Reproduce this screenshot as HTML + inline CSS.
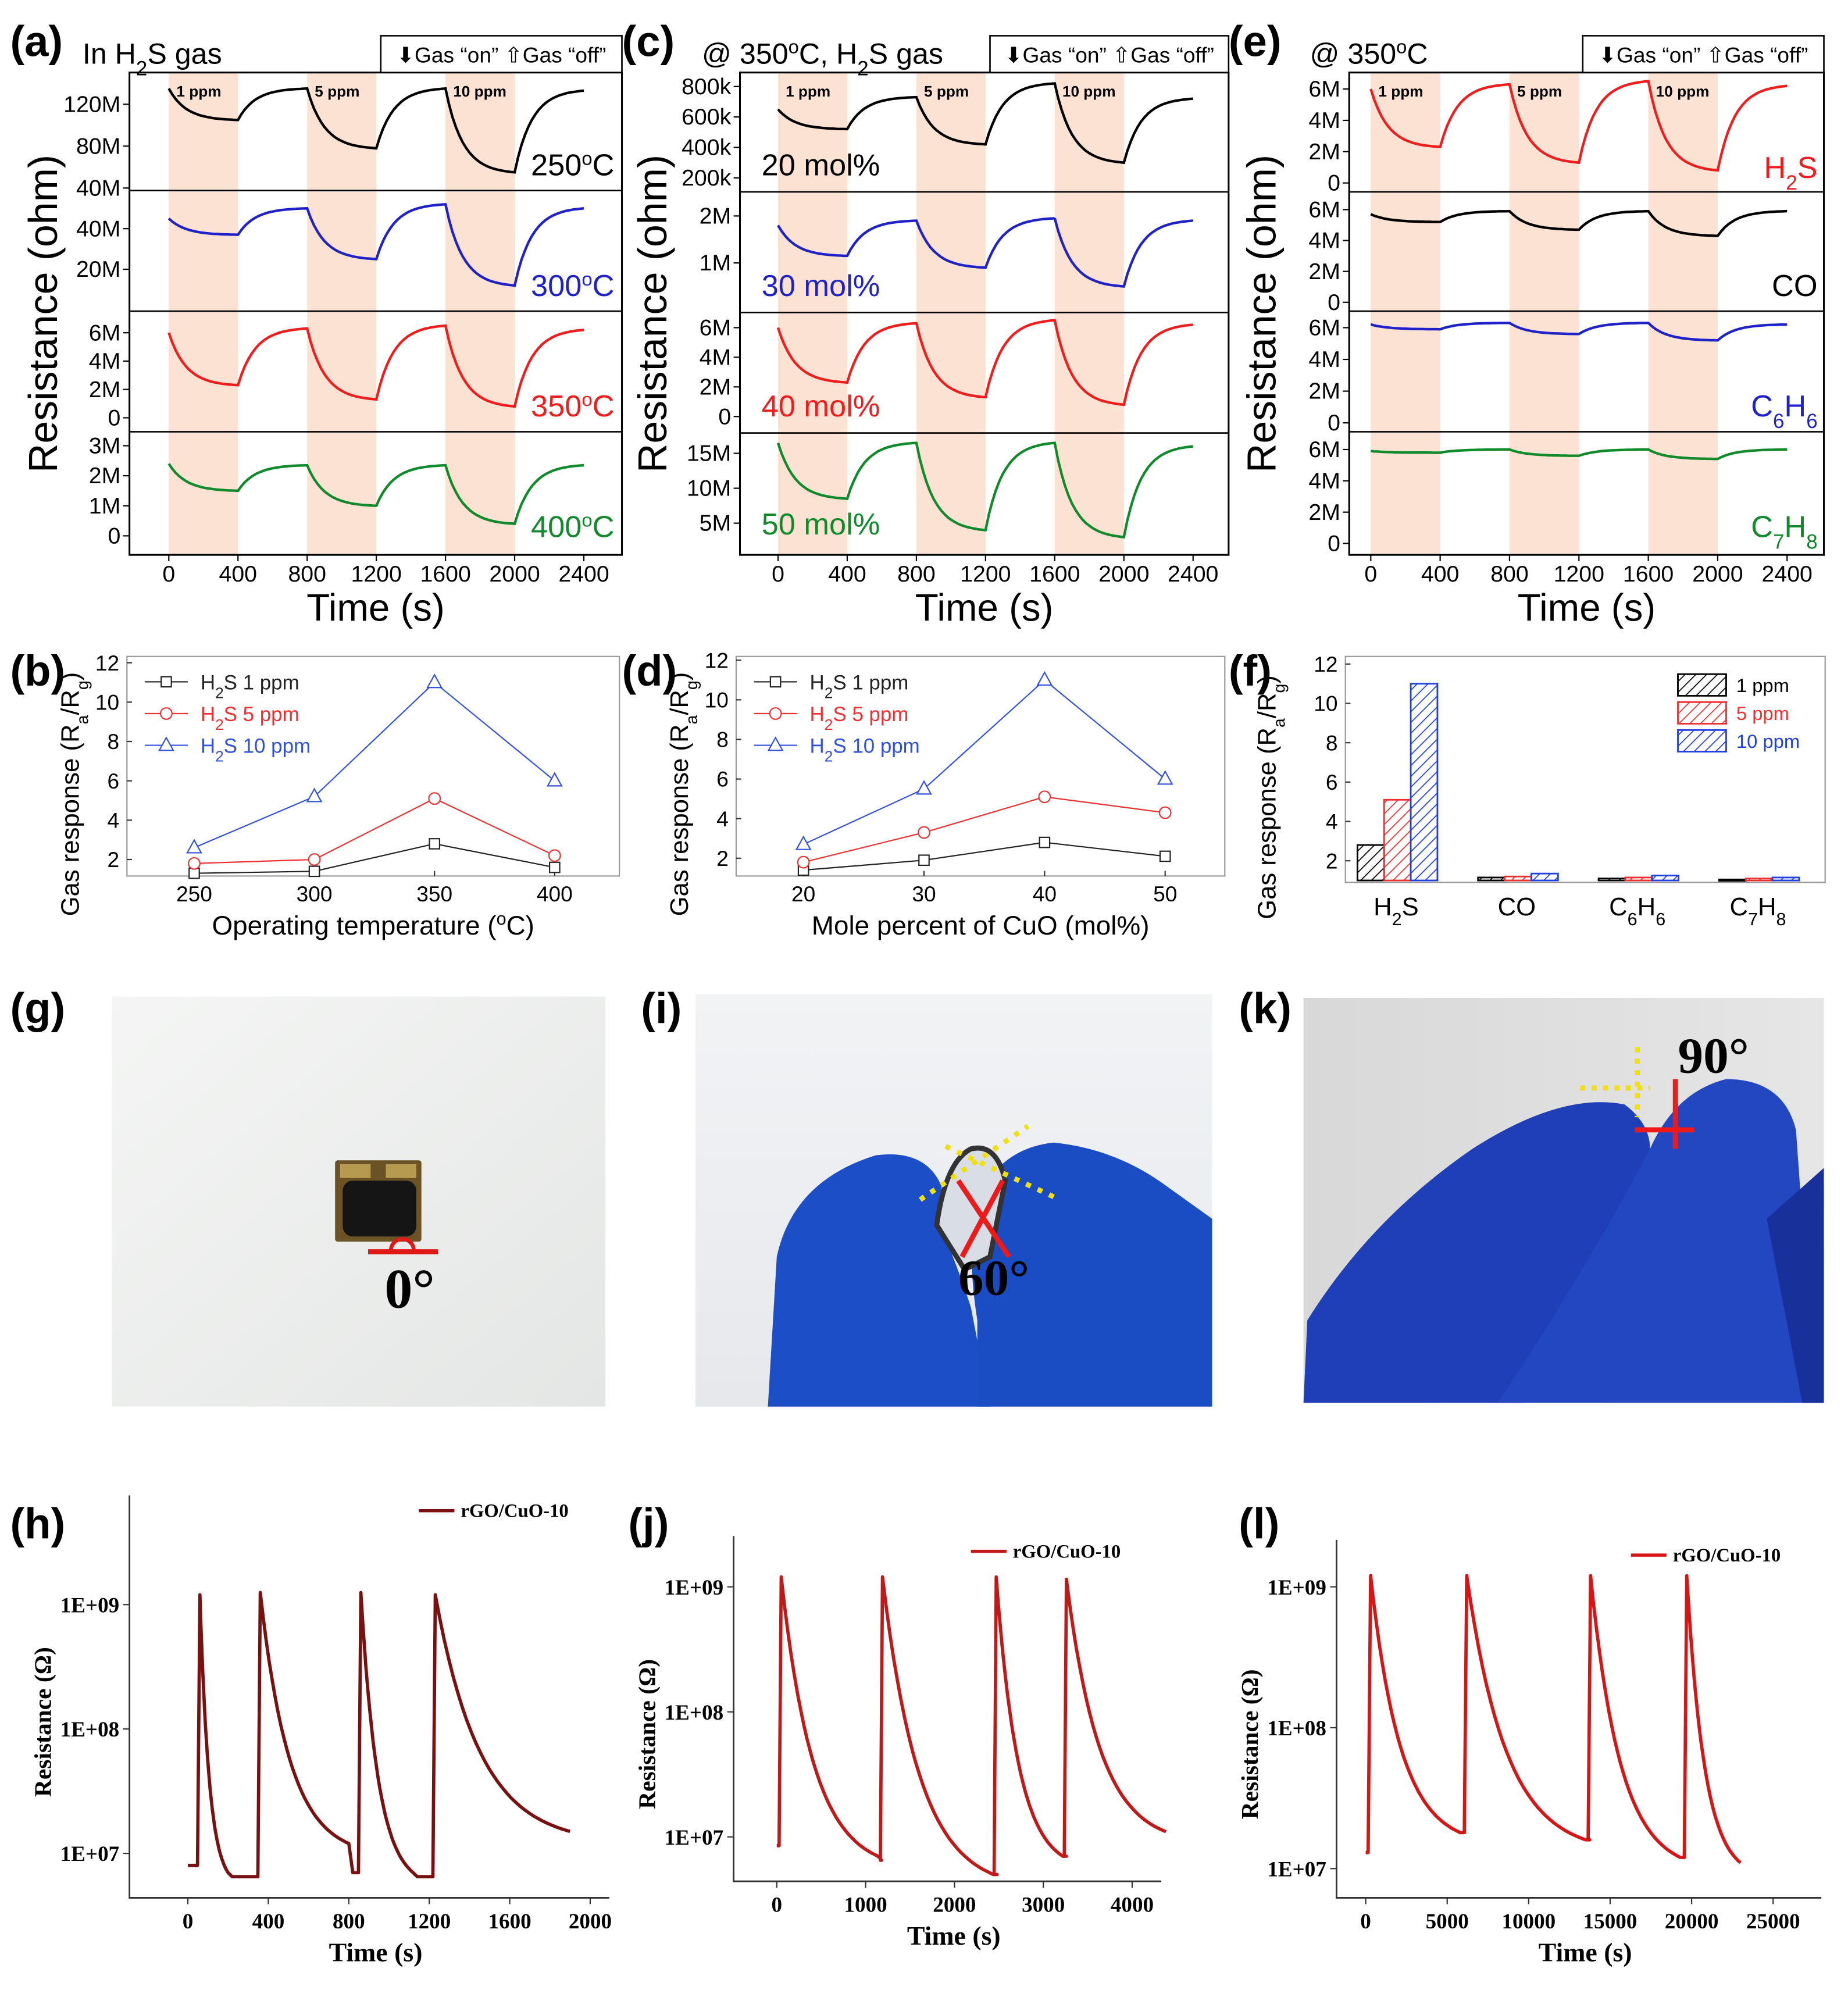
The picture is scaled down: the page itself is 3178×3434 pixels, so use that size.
<!DOCTYPE html>
<html><head><meta charset="utf-8">
<style>
html,body{margin:0;padding:0;background:#fff;}
svg{display:block;}
text{font-family:"Liberation Sans",sans-serif;}
.ser{font-family:"Liberation Serif",serif;font-weight:bold;}
</style></head>
<body>
<svg id="fig" xmlns="http://www.w3.org/2000/svg" width="3178" height="3434" viewBox="0 0 1456 1573">
<defs>
<pattern id="hatchK" patternUnits="userSpaceOnUse" width="6" height="6" patternTransform="rotate(45)"><line x1="0" y1="0" x2="0" y2="6" stroke="#000" stroke-width="1.6"/></pattern>
<pattern id="hatchR" patternUnits="userSpaceOnUse" width="6" height="6" patternTransform="rotate(45)"><line x1="0" y1="0" x2="0" y2="6" stroke="#f03030" stroke-width="1.6"/></pattern>
<pattern id="hatchB" patternUnits="userSpaceOnUse" width="6" height="6" patternTransform="rotate(45)"><line x1="0" y1="0" x2="0" y2="6" stroke="#2040e0" stroke-width="1.6"/></pattern>
<linearGradient id="gG" x1="0" y1="0" x2="1" y2="1"><stop offset="0" stop-color="#f4f5f4"/><stop offset="1" stop-color="#e4e6e5"/></linearGradient>
<linearGradient id="gI" x1="0" y1="0" x2="0" y2="1"><stop offset="0" stop-color="#f2f3f5"/><stop offset="1" stop-color="#e6e8ec"/></linearGradient>
<linearGradient id="gK" x1="0" y1="0" x2="1" y2="0"><stop offset="0" stop-color="#d8d8d8"/><stop offset="1" stop-color="#e6e6e6"/></linearGradient>
</defs>
</svg>
<script>
// ---------- DATA ----------
const timeTicks = [0,400,800,1200,1600,2000,2400];
const gasOnStart = [0,800,1600];
const concLabels = ['1 ppm','5 ppm','10 ppm'];
const a250 = [135,105,135,78,135,55,133];
const a300 = [45,37,50,25,52,12,50];
const a350 = [6.0,2.3,6.3,1.3,6.5,0.8,6.2];
const a400 = [2.4,1.5,2.35,1.0,2.35,0.4,2.35];
const c20 = [650,520,730,420,820,300,720];
const c30 = [1.8,1.15,1.9,0.9,1.95,0.5,1.9];
const c40 = [6.0,2.3,6.3,1.3,6.5,0.8,6.2];
const c50 = [16.5,8.5,16.5,4.0,16.5,3.0,16.0];
const eH2S = [6.0,2.3,6.3,1.3,6.5,0.8,6.2];
const eCO = [5.7,5.2,5.9,4.7,5.9,4.3,5.9];
const eC6H6 = [6.2,5.9,6.3,5.6,6.3,5.2,6.2];
const eC7H8 = [5.9,5.8,6.0,5.6,6.0,5.4,6.0];
const tempCats = [250,300,350,400];
const b1 = [1.3,1.4,2.8,1.6];
const b5 = [1.8,2.0,5.1,2.2];
const b10 = [2.6,5.2,11.0,6.0];
const molCats = [20,30,40,50];
const d1 = [1.4,1.9,2.8,2.1];
const d5 = [1.8,3.3,5.1,4.3];
const d10 = [2.7,5.5,11.0,6.0];
const gasCats = ['H2S','CO','C6H6','C7H8'];
const f1 = [2.8,1.15,1.1,1.05];
const f5 = [5.1,1.2,1.15,1.1];
const f10 = [11.0,1.35,1.25,1.15];
const respTicks = [2,4,6,8,10,12];
const hSpikeT = [60,360,860,1230];
const hPeak = [1.2e9,1.25e9,1.25e9,1.2e9];
const hEndT = [200,800,1120,1900];
const hEndV = [7e6,1.2e7,7e6,1.5e7];
const hBase = [8e6,6.5e6,7e6,6.5e6];
const hTicks = [0,400,800,1200,1600,2000];
const jSpikeT = [50,1190,2470,3260];
const jPeak = [1.2e9,1.2e9,1.2e9,1.15e9];
const jEndT = [1140,2440,3220,4380];
const jEndV = [7e6,5e6,7e6,1.1e7];
const jBase = [8.5e6,6.5e6,5e6,7e6];
const jTicks = [0,1000,2000,3000,4000];
const lSpikeT = [300,6200,13800,19700];
const lPeak = [1.2e9,1.2e9,1.2e9,1.2e9];
const lEndT = [5800,13500,19300,23000];
const lEndV = [1.8e7,1.6e7,1.2e7,1.1e7];
const lBase = [1.3e7,1.8e7,1.6e7,1.2e7];
const lTicks = [0,5000,10000,15000,20000,25000];
const logTicks = [1e7,1e8,1e9];
const logLabels = ['1E+07','1E+08','1E+09'];

// ---------- HELPERS ----------
const NS='http://www.w3.org/2000/svg';
const svg=document.getElementById('fig');
function mk(tag,attrs,parent){const e=document.createElementNS(NS,tag);for(const k in attrs)e.setAttribute(k,attrs[k]);(parent||svg).appendChild(e);return e;}
function txt(s,x,y,size,attrs,parent){const t=mk('text',Object.assign({x:x,y:y,'font-size':size},attrs||{}),parent);t.innerHTML=s;return t;}
function lin(v0,p0,v1,p1){return v=>p0+(v-v0)*(p1-p0)/(v1-v0);}

function panelLabel(s,x,y){const t=txt(s,x,y,34,{'font-weight':'bold'});

}

// ---------- TOP TIME-SERIES PANELS ----------
function topPanel(cfg){
  const g=mk('g',{});
  
  
  const xs=lin(0,cfg.x0,2400,cfg.x1);
  gasOnStart.forEach((t,i)=>{const r=mk('rect',{x:xs(t),y:cfg.top,width:xs(t+400)-xs(t),height:cfg.bottom-cfg.top,fill:'#fbe2d2'},g);
    
    
    const lt=txt(concLabels[i],xs(t)+6,cfg.top+19,12,{'font-weight':'bold'},g);
    
    });
  cfg.subs.forEach(sp=>{
    const ys=lin(sp.v0,sp.p0,sp.v1,sp.p1);
    let d='';
    for(let i=0;i<6;i++){
      const a=sp.vals[i],b=sp.vals[i+1];
      for(let s=0;s<=20;s++){const f=s/20,k=4;const frac=(1-Math.exp(-k*f))/(1-Math.exp(-k));
        const v=a+(b-a)*frac;const t=timeTicks[i]+400*f;
        let y=Math.max(cfg.top+2,Math.min(sp.bottom-2,ys(v)));
        d+=(d?'L':'M')+xs(t).toFixed(1)+','+y.toFixed(1);}
    }
    const p=mk('path',{d:d,fill:'none',stroke:sp.color,'stroke-width':2},g);
    
    
    sp.ticks.forEach((tv,i)=>{const y=ys(tv);
      mk('line',{x1:cfg.box0-5,x2:cfg.box0,y1:y,y2:y,stroke:'#000','stroke-width':1},g);
      const tl=txt(sp.labels[i],cfg.box0-7,y+6,18,{'text-anchor':'end'},g);
      
      });
    const lb=txt(sp.label,sp.lx,sp.ly,24,{fill:sp.color,'text-anchor':sp.anchor},g);
    
    
    mk('line',{x1:cfg.box0,x2:cfg.box1,y1:sp.bottom,y2:sp.bottom,stroke:'#000','stroke-width':1.2},g);
  });
  const fr=mk('rect',{x:cfg.box0,y:cfg.top,width:cfg.box1-cfg.box0,height:cfg.bottom-cfg.top,fill:'none',stroke:'#000','stroke-width':1.4},g);
  
  
  timeTicks.forEach(t=>{mk('line',{x1:xs(t),x2:xs(t),y1:cfg.bottom,y2:cfg.bottom+5,stroke:'#000'},g);
    const tl=txt(String(t),xs(t),cfg.bottom+21,18,{'text-anchor':'middle'},g);
    
    });
  const xt=txt('Time (s)',(cfg.box0+cfg.box1)/2,cfg.bottom+52,30,{'text-anchor':'middle'},g);
  
  
  const yt=txt('Resistance (ohm)',0,0,32,{'text-anchor':'middle',transform:'translate('+cfg.ytx+','+((cfg.top+cfg.bottom)/2)+') rotate(-90)'},g);
  
  
  const lr=mk('rect',{x:cfg.lg0,y:28,width:cfg.box1-cfg.lg0,height:cfg.top-28,fill:'#fff',stroke:'#000','stroke-width':1.2},g);
  
  
  txt('⬇Gas “on” ⇧Gas “off”',(cfg.lg0+cfg.box1)/2,49,17,{'text-anchor':'middle'},g);
  const tt=txt(cfg.title,cfg.tx,50,23,{},g);
  
  
}
topPanel({name:'panel-a-temperature',x0:133,x1:460,box0:102,box1:490,top:57,bottom:437,ytx:45,lg0:300,tx:65,title:'In H<tspan baseline-shift="sub" font-size="16">2</tspan>S gas',subs:[
 {id:'250C',vals:a250,v0:40,p0:148,v1:120,p1:82,bottom:150,ticks:[40,80,120],labels:['40M','80M','120M'],color:'#000',label:'250<tspan baseline-shift="super" font-size="15">o</tspan>C',lx:484,ly:138,anchor:'end'},
 {id:'300C',vals:a300,v0:20,p0:212,v1:40,p1:180,bottom:245,ticks:[20,40],labels:['20M','40M'],color:'#1f22c8',label:'300<tspan baseline-shift="super" font-size="15">o</tspan>C',lx:484,ly:233,anchor:'end'},
 {id:'350C',vals:a350,v0:0,p0:329,v1:6,p1:262,bottom:340,ticks:[0,2,4,6],labels:['0','2M','4M','6M'],color:'#f21c1c',label:'350<tspan baseline-shift="super" font-size="15">o</tspan>C',lx:484,ly:328,anchor:'end'},
 {id:'400C',vals:a400,v0:0,p0:422,v1:3,p1:351,bottom:437,ticks:[0,1,2,3],labels:['0','1M','2M','3M'],color:'#108a2a',label:'400<tspan baseline-shift="super" font-size="15">o</tspan>C',lx:484,ly:423,anchor:'end'}]});
topPanel({name:'panel-c-cuo-content',x0:613,x1:940,box0:583,box1:968,top:57,bottom:437,ytx:525,lg0:780,tx:553,title:'@ 350<tspan baseline-shift="super" font-size="15">o</tspan>C, H<tspan baseline-shift="sub" font-size="16">2</tspan>S gas',subs:[
 {id:'20mol',vals:c20,v0:200,p0:140,v1:800,p1:68,bottom:151,ticks:[200,400,600,800],labels:['200k','400k','600k','800k'],color:'#000',label:'20 mol%',lx:600,ly:138,anchor:'start'},
 {id:'30mol',vals:c30,v0:1,p0:207,v1:2,p1:170,bottom:246,ticks:[1,2],labels:['1M','2M'],color:'#1f22c8',label:'30 mol%',lx:600,ly:233,anchor:'start'},
 {id:'40mol',vals:c40,v0:0,p0:328,v1:6,p1:258,bottom:341,ticks:[0,2,4,6],labels:['0','2M','4M','6M'],color:'#f21c1c',label:'40 mol%',lx:600,ly:328,anchor:'start'},
 {id:'50mol',vals:c50,v0:5,p0:412,v1:15,p1:357,bottom:437,ticks:[5,10,15],labels:['5M','10M','15M'],color:'#108a2a',label:'50 mol%',lx:600,ly:421,anchor:'start'}]});
topPanel({name:'panel-e-selectivity',x0:1080,x1:1408,box0:1063,box1:1437,top:57,bottom:437,ytx:1005,lg0:1247,tx:1032,title:'@ 350<tspan baseline-shift="super" font-size="15">o</tspan>C',subs:[
 {id:'h2s',vals:eH2S,v0:0,p0:144,v1:6,p1:70,bottom:151,ticks:[0,2,4,6],labels:['0','2M','4M','6M'],color:'#f21c1c',label:'H<tspan baseline-shift="sub" font-size="16">2</tspan>S',lx:1432,ly:140,anchor:'end'},
 {id:'co',vals:eCO,v0:0,p0:238,v1:6,p1:165,bottom:245,ticks:[0,2,4,6],labels:['0','2M','4M','6M'],color:'#000',label:'CO',lx:1432,ly:233,anchor:'end'},
 {id:'c6h6',vals:eC6H6,v0:0,p0:333,v1:6,p1:258,bottom:340,ticks:[0,2,4,6],labels:['0','2M','4M','6M'],color:'#1f22c8',label:'C<tspan baseline-shift="sub" font-size="16">6</tspan>H<tspan baseline-shift="sub" font-size="16">6</tspan>',lx:1432,ly:328,anchor:'end'},
 {id:'c7h8',vals:eC7H8,v0:0,p0:428,v1:6,p1:354,bottom:437,ticks:[0,2,4,6],labels:['0','2M','4M','6M'],color:'#108a2a',label:'C<tspan baseline-shift="sub" font-size="16">7</tspan>H<tspan baseline-shift="sub" font-size="16">8</tspan>',lx:1432,ly:423,anchor:'end'}]});

// ---------- RESPONSE LINE PLOTS ----------
const respColors=['#222','#f03030','#3050e0'];
function respFrame(g,cfg){
  const fr=mk('rect',{x:cfg.box0,y:cfg.top,width:cfg.box1-cfg.box0,height:cfg.bottom-cfg.top,fill:'none',stroke:'#999','stroke-width':1},g);
  
  
  const ys=lin(2,cfg.y2,12,cfg.y12);
  respTicks.forEach(v=>{mk('line',{x1:cfg.box0,x2:cfg.box0+4,y1:ys(v),y2:ys(v),stroke:'#333'},g);
    const t=txt(String(v),cfg.box0-6,ys(v)+6,17,{'text-anchor':'end'},g);
    
    });
  const yt=txt('Gas response (R<tspan baseline-shift="sub" font-size="13">a</tspan>/R<tspan baseline-shift="sub" font-size="13">g</tspan>)',0,0,20,{'text-anchor':'middle',transform:'translate('+cfg.ytx+','+((cfg.top+cfg.bottom)/2+22)+') rotate(-90)'},g);
  
  
  return ys;
}
function respLine(cfg){
  const g=mk('g',{});
  
  
  const ys=respFrame(g,cfg);
  const xs=lin(cfg.cats[0],cfg.xa,cfg.cats[3],cfg.xb);
  cfg.cats.forEach(c=>{mk('line',{x1:xs(c),x2:xs(c),y1:cfg.bottom,y2:cfg.bottom-4,stroke:'#333'},g);
    const t=txt(String(c),xs(c),cfg.bottom+20,17,{'text-anchor':'middle'},g);
    
    });
  const xt=txt(cfg.xtitle,(cfg.box0+cfg.box1)/2,cfg.bottom+46,21,{'text-anchor':'middle'},g);
  
  
  const names=['1 ppm','5 ppm','10 ppm'];
  [cfg.s1,cfg.s5,cfg.s10].forEach((s,si)=>{
    const col=respColors[si];
    const pl=mk('polyline',{points:s.map((v,i)=>xs(cfg.cats[i])+','+ys(v)).join(' '),fill:'none',stroke:col,'stroke-width':1},g);
    
    
    s.forEach((v,i)=>{marker(g,si,xs(cfg.cats[i]),ys(v),col);});
    const ly=cfg.top+20+si*25;
    mk('line',{x1:cfg.box0+14,x2:cfg.box0+48,y1:ly,y2:ly,stroke:col},g);
    marker(g,si,cfg.box0+31,ly,col);
    const lt=txt('H<tspan baseline-shift="sub" font-size="12">2</tspan>S '+names[si],cfg.box0+58,ly+6,16,{fill:col},g);
    
    
  });
}
function marker(g,si,x,y,col){
  let m;
  if(si===0)m=mk('rect',{x:x-4,y:y-4,width:8,height:8,fill:'#fff',stroke:col},g);
  else if(si===1)m=mk('circle',{cx:x,cy:y,r:4.5,fill:'#fff',stroke:col},g);
  else m=mk('polygon',{points:(x)+','+(y-6)+' '+(x-5.5)+','+(y+4)+' '+(x+5.5)+','+(y+4),fill:'#fff',stroke:col},g);
  
  
}
respLine({name:'panel-b-response-vs-temperature',box0:100,box1:488,top:517,bottom:690,y2:677,y12:522,ytx:62,cats:tempCats,xa:153,xb:437,s1:b1,s5:b5,s10:b10,xtitle:'Operating temperature (<tspan baseline-shift="super" font-size="14">o</tspan>C)'});
respLine({name:'panel-d-response-vs-cuo',box0:580,box1:965,top:517,bottom:690,y2:676,y12:520,ytx:542,cats:molCats,xa:633,xb:918,s1:d1,s5:d5,s10:d10,xtitle:'Mole percent of CuO (mol%)'});

(function(){
  const g=mk('g',{});
  
  
  const cfg={box0:1060,box1:1438,top:517,bottom:695,y2:678,y12:523,ytx:1005};
  const ys=respFrame(g,cfg);
  const base=ys(1);
  const catX=[1100,1195,1290,1385];
  const labels=['H<tspan baseline-shift="sub" font-size="14">2</tspan>S','CO','C<tspan baseline-shift="sub" font-size="14">6</tspan>H<tspan baseline-shift="sub" font-size="14">6</tspan>','C<tspan baseline-shift="sub" font-size="14">7</tspan>H<tspan baseline-shift="sub" font-size="14">8</tspan>'];
  const fills=['url(#hatchK)','url(#hatchR)','url(#hatchB)'];
  const strokes=['#000','#f03030','#2040e0'];
  const bw=21;
  gasCats.forEach((c,ci)=>{
    [f1,f5,f10].forEach((s,si)=>{
      const x=catX[ci]+(si-1.5)*bw+1;
      const y=Math.min(ys(s[ci]),cfg.bottom-1);
      const r=mk('rect',{x:x,y:y,width:bw,height:Math.max(base-y,1),fill:fills[si],stroke:strokes[si],'stroke-width':1.3},g);
      
      
    });
    const t=txt(labels[ci],catX[ci],cfg.bottom+26,20,{'text-anchor':'middle'},g);
    
    
  });
  ['1 ppm','5 ppm','10 ppm'].forEach((n,i)=>{
    const y=531+i*22;
    const r=mk('rect',{x:1322,y:y,width:38,height:17,fill:fills[i],stroke:strokes[i],'stroke-width':1.3},g);
    
    
    const t=txt(n,1368,y+14,15,{fill:strokes[i]},g);
    
    
  });
})();

// ---------- PHOTOS ----------
(function(){
  const g=mk('g',{});
  
  
  mk('rect',{x:88,y:785,width:389,height:323,fill:'url(#gG)'},g);
  mk('rect',{x:264,y:914,width:68,height:64,fill:'#6b5326',rx:2},g);
  mk('rect',{x:270,y:930,width:58,height:44,fill:'#151515',rx:8},g);
  mk('rect',{x:268,y:917,width:24,height:11,fill:'#b59a50'},g);
  mk('rect',{x:304,y:917,width:24,height:11,fill:'#b59a50'},g);
  mk('path',{d:'M308,985 A9,9 0 0 1 326,985',fill:'none',stroke:'#e01818','stroke-width':3},g);
  mk('line',{x1:290,x2:345,y1:986,y2:986,stroke:'#e01818','stroke-width':4},g);
  const t=txt('0°',303,1030,44,{class:'ser'},g);
  
  
})();
(function(){
  const g=mk('g',{});
  
  
  mk('rect',{x:548,y:783,width:407,height:325,fill:'url(#gI)'},g);
  mk('path',{d:'M605,1108 L612,990 Q625,930 690,910 Q730,905 742,935 L738,960 Q752,990 765,1030 L780,1108 Z',fill:'#1c4ec8'},g);
  mk('path',{d:'M770,1108 L770,1040 Q762,990 768,950 Q785,905 830,900 Q880,905 920,935 L955,960 L955,1108 Z',fill:'#1a4cc4'},g);
  mk('path',{d:'M738,965 Q745,915 765,905 Q785,900 792,930 L780,990 L760,1000 Z',fill:'#d8dde6',stroke:'#333','stroke-width':4},g);
  mk('line',{x1:725,y1:945,x2:810,y2:887,stroke:'#f0e010','stroke-width':4,'stroke-dasharray':'4,6'},g);
  mk('line',{x1:745,y1:903,x2:835,y2:945,stroke:'#f0e010','stroke-width':4,'stroke-dasharray':'4,6'},g);
  mk('line',{x1:755,y1:930,x2:795,y2:990,stroke:'#ee1a1a','stroke-width':4},g);
  mk('line',{x1:790,y1:930,x2:758,y2:990,stroke:'#ee1a1a','stroke-width':4},g);
  const t=txt('60°',755,1020,40,{class:'ser'},g);
  
  
})();
(function(){
  const g=mk('g',{});
  
  
  mk('rect',{x:1027,y:786,width:410,height:319,fill:'url(#gK)'},g);
  mk('path',{d:'M1027,1105 L1030,1040 Q1080,960 1160,905 Q1230,860 1280,870 Q1300,885 1300,905 L1260,1000 L1200,1105 Z',fill:'#1e3fb8'},g);
  mk('path',{d:'M1180,1105 Q1250,1000 1300,905 Q1320,860 1360,850 Q1405,850 1415,890 L1420,960 L1437,1000 L1437,1105 Z',fill:'#2247c0'},g);
  mk('path',{d:'M1392,960 L1437,920 L1437,1105 L1420,1105 Z',fill:'#17309a'},g);
  mk('line',{x1:1245,y1:857,x2:1300,y2:857,stroke:'#f0e010','stroke-width':4,'stroke-dasharray':'4,5'},g);
  mk('line',{x1:1290,y1:825,x2:1290,y2:880,stroke:'#f0e010','stroke-width':4,'stroke-dasharray':'4,5'},g);
  mk('line',{x1:1320,y1:850,x2:1320,y2:905,stroke:'#ee1a1a','stroke-width':4},g);
  mk('line',{x1:1288,y1:890,x2:1335,y2:890,stroke:'#ee1a1a','stroke-width':4},g);
  const t=txt('90°',1322,845,40,{class:'ser'},g);
  
  
})();

// ---------- BOTTOM LOG CYCLE PLOTS ----------
function logPanel(cfg){
  const g=mk('g',{});
  
  
  const xs=lin(0,cfg.x0,cfg.tmax,cfg.x1);
  const ly=lin(7,cfg.y7,9,cfg.y9);
  const ys=v=>ly(Math.log10(v));
  const ax=mk('path',{d:'M'+cfg.left+','+cfg.top+' L'+cfg.left+','+cfg.bottom+' L'+cfg.right+','+cfg.bottom,fill:'none',stroke:'#333','stroke-width':1.3},g);
  
  
  cfg.xticks.forEach(t=>{mk('line',{x1:xs(t),x2:xs(t),y1:cfg.bottom,y2:cfg.bottom+5,stroke:'#333'},g);
    const tl=txt(String(t),xs(t),cfg.bottom+24,17,{'text-anchor':'middle',class:'ser'},g);
    
    });
  logTicks.forEach((v,i)=>{mk('line',{x1:cfg.left-5,x2:cfg.left,y1:ys(v),y2:ys(v),stroke:'#333'},g);
    const tl=txt(logLabels[i],cfg.left-8,ys(v)+6,17,{'text-anchor':'end',class:'ser'},g);
    
    });
  const xt=txt('Time (s)',(cfg.left+cfg.right)/2+5,cfg.bottom+50,21,{'text-anchor':'middle',class:'ser'},g);
  
  
  const yt=txt('Resistance (Ω)',0,0,19,{'text-anchor':'middle',class:'ser',transform:'translate('+(cfg.left-62)+','+((cfg.top+cfg.bottom)/2+20)+') rotate(-90)'},g);
  
  
  let d='M'+xs(0)+','+ys(cfg.base[0]);
  for(let i=0;i<cfg.spikeT.length;i++){
    const st=cfg.spikeT[i];
    d+='L'+xs(st-cfg.tmax*0.006)+','+ys(cfg.base[i]);
    d+='L'+xs(st)+','+ys(cfg.peak[i]);
    const a=Math.log10(cfg.peak[i]),b=Math.log10(cfg.endV[i]);
    for(let s=1;s<=30;s++){const f=s/30,k=3;const fr=(1-Math.exp(-k*f))/(1-Math.exp(-k));
      d+='L'+xs(st+(cfg.endT[i]-st)*f).toFixed(1)+','+ly(a+(b-a)*fr).toFixed(1);}
    if(i+1<cfg.spikeT.length)d+='L'+xs(cfg.endT[i]+cfg.tmax*0.01)+','+ys(cfg.base[i+1]);
  }
  const p=mk('path',{d:d,fill:'none',stroke:cfg.color,'stroke-width':2.6,'stroke-linejoin':'round'},g);
  
  
  const lx=cfg.right-150,lyy=cfg.top+12;
  mk('line',{x1:lx,x2:lx+28,y1:lyy,y2:lyy,stroke:cfg.color,'stroke-width':2.5},g);
  const lt=txt('rGO/CuO-10',lx+33,lyy+5,15,{class:'ser'},g);
  
  
}
logPanel({name:'panel-h-flat-cycles',left:102,right:480,top:1178,bottom:1495,x0:148,x1:465,tmax:2000,y7:1460,y9:1264,xticks:hTicks,spikeT:hSpikeT,peak:hPeak,endT:hEndT,endV:hEndV,base:hBase,color:'#7a1010'});
logPanel({name:'panel-j-60deg-cycles',left:578,right:915,top:1210,bottom:1482,x0:612,x1:892,tmax:4000,y7:1447,y9:1250,xticks:jTicks,spikeT:jSpikeT,peak:jPeak,endT:jEndT,endV:jEndV,base:jBase,color:'#c21818'});
logPanel({name:'panel-l-90deg-cycles',left:1053,right:1435,top:1213,bottom:1495,x0:1076,x1:1397,tmax:25000,y7:1472,y9:1250,xticks:lTicks,spikeT:lSpikeT,peak:lPeak,endT:lEndT,endV:lEndV,base:lBase,color:'#d81414'});

// ---------- PANEL LABELS ----------
panelLabel('(a)',8,44);
panelLabel('(c)',490,44);
panelLabel('(e)',968,44);
panelLabel('(b)',8,540);
panelLabel('(d)',490,540);
panelLabel('(f)',968,540);
panelLabel('(g)',8,806);
panelLabel('(i)',505,806);
panelLabel('(k)',976,806);
panelLabel('(h)',8,1212);
panelLabel('(j)',495,1212);
panelLabel('(l)',976,1212);
</script>
</body></html>
